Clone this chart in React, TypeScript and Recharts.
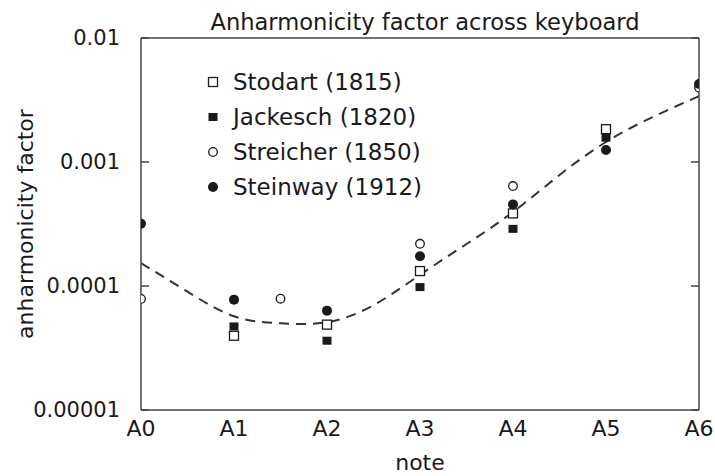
import React from 'react';
import { ComposedChart, Scatter, Line, XAxis, YAxis, Legend, Label } from 'recharts';

const FONT = "'DejaVu Sans', 'Liberation Sans', sans-serif";
const TITLE = 'Anharmonicity factor across keyboard';
const X_TITLE = 'note';
const Y_TITLE = 'anharmonicity factor';

const xTickValues = [0, 1, 2, 3, 4, 5, 6];
const xTickLabels = ['A0', 'A1', 'A2', 'A3', 'A4', 'A5', 'A6'];
const yTickValues = [0.00001, 0.0001, 0.001, 0.01];
const yTickLabels = ['0.00001', '0.0001', '0.001', '0.01'];

const stodartX = [1, 2, 3, 4, 5];
const stodartY = [3.97e-5, 4.88e-5, 1.32e-4, 3.85e-4, 1.84e-3];
const jackeschX = [1, 2, 3, 4, 5];
const jackeschY = [4.72e-5, 3.62e-5, 9.8e-5, 2.89e-4, 1.57e-3];
const streicherX = [0, 1.5, 3, 4, 6];
const streicherY = [7.87e-5, 7.9e-5, 2.19e-4, 6.4e-4, 3.99e-3];
const steinwayX = [0, 1, 2, 3, 4, 5, 6];
const steinwayY = [3.18e-4, 7.76e-5, 6.33e-5, 1.74e-4, 4.55e-4, 1.25e-3, 4.25e-3];
const fitX = [0, 0.5, 1, 1.5, 2, 2.5, 3, 3.5, 4, 4.5, 5, 5.5, 6];
const fitY = [1.53e-4, 9.0e-5, 5.7e-5, 5.0e-5, 5.1e-5, 7.0e-5, 1.23e-4, 2.18e-4, 3.95e-4, 7.85e-4, 1.45e-3, 2.3e-3, 3.4e-3];

const seriesNames = ['Stodart (1815)', 'Jackesch (1820)', 'Streicher (1850)', 'Steinway (1912)'];

const zip = (xs: number[], ys: number[]) => xs.map((x, i) => ({ x, y: ys[i] }));

const INK = '#1a1a1a';
const AXIS = '#444';

const OpenSquare = (p: any) => (
  <rect x={p.cx - 4.5} y={p.cy - 4.5} width={9} height={9} fill="#fff" stroke={INK} strokeWidth={1.3} />
);
const FilledSquare = (p: any) => (
  <rect x={p.cx - 4.5} y={p.cy - 4} width={9} height={8} fill={INK} stroke="none" />
);
const OpenCircle = (p: any) => (
  <circle cx={p.cx} cy={p.cy} r={4.3} fill="#fff" stroke={INK} strokeWidth={1.3} />
);
const FilledCircle = (p: any) => <circle cx={p.cx} cy={p.cy} r={5} fill={INK} stroke="none" />;

const shapes = [OpenSquare, FilledSquare, OpenCircle, FilledCircle];

const renderLegend = () => (
  <div style={{ fontFamily: FONT, fontSize: 23, color: INK }}>
    {seriesNames.map((name, i) => {
      const Shape = shapes[i];
      return (
        <div key={name} style={{ display: 'flex', alignItems: 'center', height: 35 }}>
          <svg width={20} height={20} style={{ marginRight: 10 }}>
            <Shape cx={10} cy={10} />
          </svg>
          <span style={{ whiteSpace: 'nowrap' }}>{name}</span>
        </div>
      );
    })}
  </div>
);

const TitleLabel = (props: any) => {
  const vb = props.viewBox || {};
  return (
    <text x={vb.x + vb.width / 2 + 5} y={vb.y - 8} textAnchor="middle" fontFamily={FONT} fontSize={22.6} fill={INK}>
      {TITLE}
    </text>
  );
};
const XTitleLabel = (props: any) => {
  const vb = props.viewBox || {};
  return (
    <text x={vb.x + vb.width / 2} y={vb.y + 60} textAnchor="middle" fontFamily={FONT} fontSize={22} fill={INK}>
      {X_TITLE}
    </text>
  );
};
const YTitleLabel = (props: any) => {
  const vb = props.viewBox || {};
  const x = vb.x + 33;
  const y = vb.y + vb.height / 2;
  return (
    <text x={x} y={y} transform={`rotate(-90, ${x}, ${y})`} textAnchor="middle" fontFamily={FONT} fontSize={22} fill={INK}>
      {Y_TITLE}
    </text>
  );
};

const blank = () => '';

export default function App() {
  const frameX = {
    type: 'number' as const,
    domain: [0, 6],
    ticks: xTickValues,
    tickFormatter: blank,
    mirror: true,
    tickSize: 8,
    allowDataOverflow: true,
    stroke: AXIS,
    strokeWidth: 1.5,
  };
  const frameY = {
    scale: 'log' as const,
    domain: [0.00001, 0.01],
    ticks: yTickValues,
    tickFormatter: blank,
    mirror: true,
    tickSize: 8,
    allowDataOverflow: true,
    stroke: AXIS,
    strokeWidth: 1.5,
  };
  return (
    <div style={{ position: 'absolute', left: 0, top: 0, background: '#fff' }}>
      <ComposedChart width={715} height={476} margin={{ top: 38, right: 16, bottom: 0, left: 0 }}>
        <XAxis
          xAxisId="b"
          dataKey="x"
          type="number"
          domain={[0, 6]}
          ticks={xTickValues}
          tickFormatter={(v: number) => xTickLabels[xTickValues.indexOf(v)] ?? ''}
          height={66}
          tickSize={0}
          tickLine={false}
          axisLine={false}
          tickMargin={10}
          allowDataOverflow
          tick={{ fill: INK, fontSize: 22, fontFamily: FONT }}
        >
          <Label content={XTitleLabel} />
        </XAxis>
        <XAxis xAxisId="fb" orientation="bottom" {...frameX} />
        <XAxis xAxisId="ft" orientation="top" {...frameX}>
          <Label content={TitleLabel} />
        </XAxis>
        <YAxis
          yAxisId="l"
          scale="log"
          domain={[0.00001, 0.01]}
          ticks={yTickValues}
          tickFormatter={(v: number) => yTickLabels[yTickValues.indexOf(v)] ?? String(v)}
          width={141}
          tickSize={0}
          tickLine={false}
          axisLine={false}
          tickMargin={21}
          allowDataOverflow
          tick={{ fill: INK, fontSize: 21, fontFamily: FONT }}
        >
          <Label content={YTitleLabel} />
        </YAxis>
        <YAxis yAxisId="fl" orientation="left" {...frameY} />
        <YAxis yAxisId="fr" orientation="right" {...frameY} />
        <Line
          xAxisId="b"
          yAxisId="l"
          data={zip(fitX, fitY)}
          dataKey="y"
          type="natural"
          stroke="#333"
          strokeWidth={2}
          strokeDasharray="10 7"
          dot={false}
          activeDot={false}
          isAnimationActive={false}
          legendType="none"
        />
        <Scatter xAxisId="b" yAxisId="l" name={seriesNames[0]} data={zip(stodartX, stodartY)} dataKey="y" shape={OpenSquare} isAnimationActive={false} />
        <Scatter xAxisId="b" yAxisId="l" name={seriesNames[1]} data={zip(jackeschX, jackeschY)} dataKey="y" shape={FilledSquare} isAnimationActive={false} />
        <Scatter xAxisId="b" yAxisId="l" name={seriesNames[2]} data={zip(streicherX, streicherY)} dataKey="y" shape={OpenCircle} isAnimationActive={false} />
        <Scatter xAxisId="b" yAxisId="l" name={seriesNames[3]} data={zip(steinwayX, steinwayY)} dataKey="y" shape={FilledCircle} isAnimationActive={false} />
        <Legend
          layout="vertical"
          align="center"
          verticalAlign="middle"
          content={renderLegend}
          wrapperStyle={{ position: 'absolute', left: 203, top: 64, width: 'auto', height: 'auto' }}
        />
      </ComposedChart>
    </div>
  );
}
